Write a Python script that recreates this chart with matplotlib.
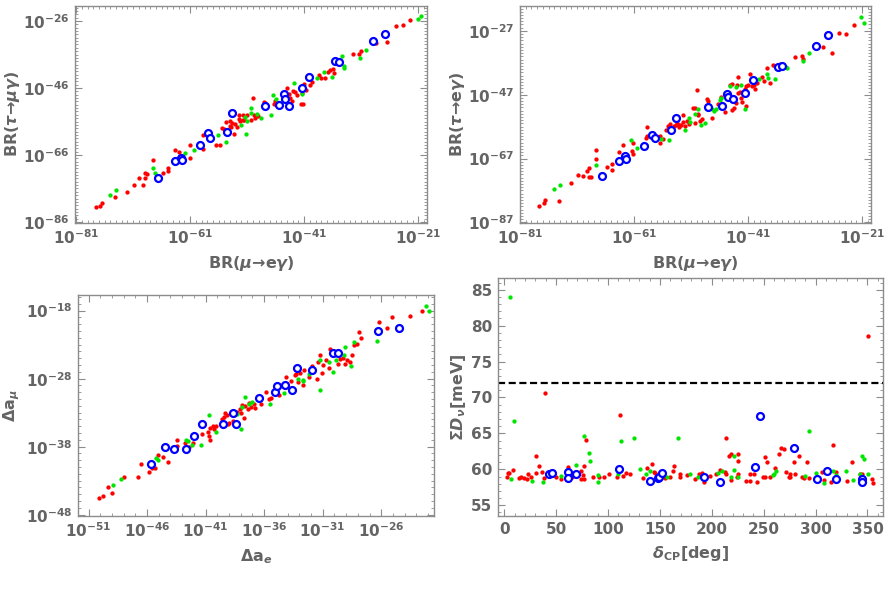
import numpy as np
import matplotlib
matplotlib.use("Agg")
import matplotlib.pyplot as plt
from matplotlib.ticker import NullFormatter

plt.rcParams["font.family"] = "DejaVu Sans"
plt.rcParams["font.weight"] = "bold"
plt.rcParams["mathtext.fontset"] = "dejavusans"
plt.rcParams["mathtext.default"] = "bf"

_TEXT = "#646464"
_FRAME = "#8c8c8c"

# ---- data. Log panels hold log10 values (x, y) ----
# BR(mu->e gamma) vs BR(tau->mu gamma)
tmg_red = [(-77.6, -81.5), (-76.8, -81.1), (-76.5, -80.4), (-74.2, -78.4), (-72.0, -77.0),
           (-70.9, -75.1), (-69.9, -72.9), (-69.2, -75.1), (-69.0, -71.4), (-68.9, -72.8),
           (-68.5, -71.7), (-67.6, -67.5), (-65.7, -71.4), (-64.9, -69.9), (-64.9, -70.8),
           (-63.6, -64.5), (-62.9, -65.0), (-61.1, -67.0), (-61.1, -62.9), (-58.8, -59.9),
           (-58.7, -64.3), (-56.5, -63.1), (-55.8, -62.9), (-55.4, -58.0), (-55.1, -58.1),
           (-54.7, -56.0), (-54.1, -55.9), (-54.0, -57.2), (-53.8, -57.6), (-53.6, -56.4),
           (-53.4, -59.8), (-53.2, -56.8), (-52.8, -57.5), (-52.5, -55.2), (-52.5, -54.2),
           (-52.2, -55.7), (-51.8, -54.1), (-51.7, -55.4), (-51.5, -55.6), (-51.0, -54.2),
           (-50.4, -55.4), (-50.0, -49.1), (-49.8, -54.2), (-49.7, -55.0), (-49.1, -54.5),
           (-48.1, -50.1), (-47.8, -50.6), (-46.3, -50.7), (-46.2, -49.8), (-44.1, -45.9),
           (-43.7, -47.9), (-42.9, -46.9), (-42.6, -47.3), (-42.2, -48.1), (-41.6, -50.9),
           (-41.2, -50.7), (-41.0, -44.9), (-40.7, -46.5), (-39.9, -45.1), (-39.6, -44.1),
           (-38.4, -42.1), (-38.0, -43.1), (-37.4, -43.1), (-36.9, -41.1), (-36.5, -40.5),
           (-36.0, -40.2), (-35.8, -41.6), (-32.5, -35.8), (-31.4, -35.7), (-31.1, -35.0),
           (-28.4, -32.7), (-26.4, -32.3), (-24.9, -27.5), (-23.7, -27.1), (-22.4, -25.7),
           (-43.5, -49.1), (-43.1, -49.8), (-41.3, -47.6)]
tmg_green = [(-75.1, -77.9), (-74.0, -76.3), (-67.6, -69.8), (-67.2, -71.4), (-61.9, -65.4),
             (-60.4, -64.6), (-59.4, -63.3), (-56.2, -60.0), (-54.8, -62.1), (-52.0, -56.9),
             (-51.3, -54.7), (-51.2, -59.8), (-51.0, -55.7), (-50.3, -52.0), (-50.3, -53.5),
             (-49.3, -53.7), (-48.5, -55.0), (-46.9, -54.0), (-46.4, -48.1), (-45.9, -49.3),
             (-44.1, -48.9), (-42.8, -44.5), (-41.3, -47.9), (-38.8, -42.9), (-37.5, -41.3),
             (-36.2, -42.8), (-34.3, -36.3), (-34.1, -39.5), (-34.0, -40.0), (-31.2, -37.0),
             (-30.1, -34.6), (-21.1, -25.3), (-20.5, -24.5)]
tmg_blue = [(-66.7, -73.0), (-63.6, -67.8), (-62.6, -66.8), (-62.4, -67.4), (-59.2, -63.1),
            (-57.8, -59.3), (-57.5, -61.0), (-54.5, -59.2), (-53.7, -53.5), (-47.8, -51.5),
            (-45.4, -51.2), (-44.6, -47.9), (-44.4, -49.4), (-43.6, -51.3), (-41.3, -45.9),
            (-40.1, -42.8), (-35.6, -38.0), (-34.9, -38.3), (-28.9, -32.0), (-26.8, -30.0)]

# BR(mu->e gamma) vs BR(tau->e gamma)
teg_red = [(-77.6, -81.8), (-76.8, -80.9), (-76.6, -80.0), (-74.2, -80.2), (-72.0, -74.7),
           (-70.9, -72.3), (-69.9, -72.4), (-69.2, -71.0), (-68.9, -69.9), (-68.9, -72.8),
           (-68.5, -72.8), (-67.6, -64.2), (-67.6, -67.3), (-65.7, -69.7), (-64.9, -68.6),
           (-64.8, -70.5), (-63.6, -65.1), (-63.0, -62.8), (-61.3, -64.7), (-61.1, -65.7),
           (-61.1, -62.1), (-58.9, -60.5), (-58.8, -57.1), (-58.7, -59.8), (-56.5, -59.8),
           (-56.5, -62.2), (-55.9, -61.0), (-55.4, -58.0), (-55.1, -56.9), (-54.7, -56.1),
           (-54.0, -56.8), (-53.7, -56.6), (-53.4, -55.8), (-53.2, -56.4), (-53.1, -57.2),
           (-52.8, -56.6), (-52.5, -53.5), (-52.4, -55.6), (-52.1, -56.7), (-51.7, -55.1),
           (-51.3, -56.1), (-50.6, -51.2), (-50.3, -51.2), (-50.4, -55.8), (-49.9, -45.6),
           (-49.8, -53.0), (-49.7, -53.5), (-49.5, -55.1), (-49.1, -54.5), (-48.2, -48.3),
           (-48.0, -49.1), (-47.3, -54.3), (-46.3, -49.8), (-45.8, -47.7), (-45.1, -52.4),
           (-44.2, -44.1), (-43.9, -43.5), (-43.8, -51.7), (-43.5, -51.2), (-43.2, -49.6),
           (-42.9, -43.9), (-42.8, -41.5), (-42.8, -46.4), (-42.5, -46.0), (-42.2, -48.0),
           (-42.0, -49.3), (-41.6, -45.1), (-41.4, -50.4), (-41.3, -44.3), (-41.0, -43.9),
           (-40.7, -40.6), (-40.4, -44.3), (-39.9, -43.9), (-39.8, -45.3), (-39.5, -43.2),
           (-38.5, -41.6), (-38.2, -42.6), (-37.6, -38.6), (-37.2, -43.2), (-36.7, -37.6),
           (-36.3, -38.1), (-35.7, -37.6), (-35.4, -37.3), (-32.8, -35.2), (-31.5, -34.9),
           (-31.3, -35.7), (-27.8, -32.0), (-26.3, -33.9), (-25.0, -27.8), (-23.8, -28.0),
           (-22.5, -25.3)]
teg_green = [(-75.1, -76.5), (-74.0, -75.2), (-67.6, -69.0), (-61.5, -61.2), (-60.4, -63.8),
             (-58.9, -62.9), (-56.3, -60.8), (-54.8, -61.3), (-52.0, -58.0), (-51.3, -54.3),
             (-50.3, -52.9), (-49.8, -51.4), (-51.2, -55.6), (-49.3, -56.4), (-48.6, -55.9),
             (-47.3, -51.4), (-46.9, -52.1), (-46.6, -51.6), (-46.0, -48.6), (-45.7, -48.0),
             (-44.1, -44.3), (-43.1, -44.6), (-42.3, -44.1), (-41.5, -51.4), (-39.1, -42.2),
             (-37.6, -40.4), (-37.5, -41.8), (-36.3, -42.0), (-34.4, -38.3), (-34.2, -38.5),
             (-31.3, -36.4), (-30.3, -33.8), (-21.2, -22.6), (-20.6, -24.5)]
teg_blue = [(-66.7, -72.4), (-63.6, -67.8), (-62.6, -66.1), (-62.4, -67.0), (-59.3, -63.2),
            (-57.8, -59.7), (-57.4, -60.7), (-54.5, -58.0), (-53.7, -54.2), (-48.0, -50.9),
            (-45.6, -50.6), (-44.7, -46.7), (-44.6, -47.8), (-43.7, -48.5), (-41.5, -46.5),
            (-40.2, -42.5), (-35.8, -38.3), (-35.0, -38.1), (-29.1, -31.8), (-27.0, -28.2)]

# Delta a_e vs Delta a_mu
amu_red = [(-50.1, -45.5), (-49.8, -45.2), (-49.3, -43.9), (-49.0, -44.8), (-48.0, -42.4),
           (-46.8, -42.4), (-46.5, -40.5), (-45.8, -41.7), (-45.6, -41.2), (-45.3, -41.2),
           (-45.1, -39.2), (-44.6, -39.5), (-44.2, -40.2), (-43.4, -37.0), (-43.4, -37.9),
           (-42.8, -37.4), (-42.4, -38.0), (-42.1, -37.5), (-41.3, -36.2), (-40.8, -35.8),
           (-40.7, -36.4), (-40.6, -37.0), (-40.6, -35.3), (-40.4, -34.9), (-40.3, -35.4),
           (-40.1, -35.0), (-39.6, -34.0), (-39.4, -33.7), (-39.3, -33.0), (-39.2, -33.4),
           (-39.1, -34.7), (-39.0, -34.5), (-38.7, -34.3), (-38.6, -33.4), (-38.3, -32.9),
           (-38.1, -32.4), (-38.0, -33.1), (-37.9, -31.9), (-37.7, -33.8), (-37.6, -32.0),
           (-37.4, -32.4), (-37.3, -31.6), (-37.1, -32.2), (-36.9, -31.7), (-36.8, -32.3),
           (-36.3, -31.8), (-35.8, -30.0), (-35.6, -31.0), (-35.4, -30.8), (-34.7, -30.4),
           (-34.1, -27.8), (-33.7, -28.3), (-33.4, -27.5), (-33.3, -27.3), (-33.1, -28.5),
           (-32.9, -27.1), (-32.7, -29.0), (-32.6, -26.8), (-32.2, -27.8), (-31.9, -26.1),
           (-31.5, -28.0), (-31.4, -25.5), (-31.2, -24.5), (-31.1, -27.2), (-31.0, -26.0),
           (-30.7, -25.3), (-30.5, -26.5), (-30.4, -23.7), (-30.0, -24.3), (-29.7, -25.9),
           (-29.5, -25.1), (-29.3, -25.0), (-29.1, -25.8), (-28.9, -25.3), (-28.7, -25.5),
           (-28.5, -24.5), (-28.3, -23.1), (-28.1, -22.9), (-27.9, -21.1), (-27.7, -22.0),
           (-26.2, -19.7), (-25.5, -20.5), (-25.1, -18.9), (-23.5, -18.8), (-22.5, -18.1)]
amu_green = [(-48.9, -43.7), (-48.2, -42.7), (-45.2, -39.7), (-45.1, -40.0), (-42.7, -37.0),
             (-42.5, -37.1), (-42.2, -37.7), (-41.4, -37.7), (-40.7, -33.4), (-40.1, -35.9),
             (-38.3, -33.2), (-38.0, -35.4), (-37.9, -32.2), (-37.6, -30.7), (-37.3, -31.7),
             (-37.0, -31.4), (-35.5, -31.8), (-34.9, -30.0), (-34.3, -30.1), (-33.1, -28.0),
             (-32.7, -28.3), (-32.7, -28.2), (-32.2, -27.3), (-31.2, -29.7), (-31.2, -25.3),
             (-30.5, -25.5), (-30.1, -27.0), (-29.9, -25.2), (-29.2, -24.5), (-29.1, -23.3),
             (-28.6, -26.2), (-28.3, -22.6), (-26.4, -22.5), (-22.2, -17.3), (-21.9, -18.0)]
amu_blue = [(-45.7, -40.5), (-44.5, -38.1), (-43.7, -38.3), (-42.7, -38.4), (-42.0, -36.5),
            (-41.3, -34.7), (-39.5, -34.6), (-38.7, -33.1), (-38.4, -34.7), (-36.4, -30.8),
            (-35.1, -30.0), (-34.9, -29.1), (-34.2, -29.0), (-33.6, -29.6), (-33.2, -26.5),
            (-31.9, -26.7), (-30.1, -24.3), (-29.7, -24.3), (-26.3, -21.0), (-24.5, -20.5)]

# delta_CP [deg] vs sum of neutrino masses [meV]
mass_red = [(39.4, 70.6), (30.1, 61.9), (33.0, 60.4), (8.3, 59.9), (3.5, 59.5), (4.8, 59.5),
            (2.2, 58.9), (14.1, 58.8), (16.3, 58.9), (18.9, 58.8), (22.8, 59.3), (25.3, 59.0),
            (22.1, 58.7), (30.4, 59.5), (36.5, 59.6), (38.1, 58.8), (42.9, 59.1), (49.4, 58.9),
            (54.2, 58.7), (61.2, 60.3), (60.6, 59.5), (65.4, 59.0), (73.4, 59.7), (74.0, 58.6),
            (76.6, 58.6), (76.0, 59.2), (77.2, 60.4), (78.5, 64.1), (85.6, 58.9), (91.0, 58.9),
            (95.8, 58.9), (100.6, 59.3), (108.7, 59.0), (111.5, 67.5), (114.1, 59.1),
            (117.6, 59.5), (121.5, 59.4), (133.7, 58.8), (137.5, 60.2), (142.6, 60.8),
            (143.9, 59.6), (145.5, 59.5), (147.1, 59.1), (155.1, 58.8), (159.9, 59.0),
            (162.2, 59.7), (163.5, 60.5), (168.9, 59.4), (169.2, 58.9), (176.0, 59.2),
            (187.2, 59.3), (183.9, 58.7), (190.4, 59.5), (190.4, 59.0), (192.0, 58.3),
            (198.4, 59.1), (203.9, 59.4), (207.5, 59.9), (212.3, 59.6), (213.6, 59.3),
            (213.6, 64.4), (216.8, 61.9), (218.7, 62.2), (218.7, 58.5), (224.2, 59.0),
            (225.2, 62.2), (225.2, 61.2), (225.2, 59.4), (232.9, 58.4), (237.1, 58.4),
            (236.4, 59.3), (240.6, 59.3), (243.8, 58.2), (249.6, 58.9), (251.6, 61.7),
            (253.2, 61.0), (250.9, 58.9), (256.4, 59.0), (260.6, 60.2), (264.5, 62.1),
            (267.0, 62.9), (269.6, 62.8), (271.5, 59.6), (274.1, 59.0), (275.4, 59.0),
            (275.7, 59.4), (279.3, 61.0), (280.6, 59.4), (283.8, 61.9), (286.4, 58.9),
            (288.9, 58.8), (291.5, 61.0), (293.4, 58.8), (306.3, 59.6), (307.6, 58.5),
            (316.3, 63.4), (314.7, 58.2), (319.2, 59.6), (329.8, 58.4), (334.7, 61.0),
            (342.4, 59.4), (344.7, 59.3), (350.8, 78.6), (354.0, 58.7), (355.0, 58.1)]
mass_green = [(5.1, 84.0), (9.6, 66.7), (6.7, 58.6), (26.9, 58.4), (36.9, 58.3), (54.5, 59.1),
              (69.2, 60.6), (76.9, 64.7), (81.7, 62.3), (82.4, 61.2), (90.4, 59.2), (90.1, 58.3),
              (112.5, 64.0), (124.7, 64.4), (131.1, 60.0), (136.5, 59.3), (140.1, 59.7),
              (156.7, 58.9), (167.3, 64.3), (178.5, 59.3), (109.3, 59.3), (186.5, 58.9),
              (205.8, 59.5), (209.7, 59.8), (218.7, 59.0), (221.0, 61.8), (221.0, 59.9),
              (225.2, 59.0), (258.7, 59.2), (260.0, 59.4), (261.9, 59.7), (290.2, 59.1),
              (294.1, 65.3), (299.9, 59.5), (307.6, 58.1), (316.6, 59.8), (319.2, 59.2),
              (329.5, 59.7), (336.0, 58.5), (344.3, 61.9), (346.3, 61.4), (350.1, 59.4),
              (342.4, 59.4)]
mass_blue = [(42.9, 59.3), (46.2, 59.5), (61.2, 59.6), (61.2, 58.8), (68.6, 59.3), (110.6, 60.1),
             (140.7, 58.4), (148.4, 58.8), (149.4, 59.0), (151.6, 59.5), (192.0, 59.0),
             (208.1, 58.2), (241.9, 60.3), (246.4, 67.4), (279.3, 62.9), (301.5, 58.6),
             (310.5, 59.7), (319.5, 58.6), (344.3, 58.7), (344.7, 58.2)]
mass_bound = 72.0

# tick exponents
tmg_xticks = [-81, -61, -41, -21]
tmg_yticks = [-26, -46, -66, -86]
teg_yticks = [-27, -47, -67, -87]
amu_xticks = [-51, -46, -41, -36, -31, -26]
amu_yticks = [-18, -28, -38, -48]
mass_xticks = [0, 50, 100, 150, 200, 250, 300, 350]
mass_yticks = [55, 60, 65, 70, 75, 80, 85]


def style_axes(ax, labelsize=10.5):
    """Mathematica-like frame: gray box, inward ticks on all sides."""
    for s in ax.spines.values():
        s.set_color(_FRAME)
        s.set_linewidth(1.0)
    ax.tick_params(which="both", direction="in", top=True, right=True,
                   color=_FRAME, labelcolor=_TEXT, labelsize=labelsize)
    ax.tick_params(which="major", length=5, width=0.8, pad=4)
    ax.tick_params(which="minor", length=2.5, width=0.6)


def plot_sets(ax, red, green, blue, log=True):
    """Red and green dots, blue open circles on top."""
    for pts, kw in ((red, dict(color="#ff0000")), (green, dict(color="#00e600"))):
        a = np.array(pts).T
        x, y = (10.0 ** a[0], 10.0 ** a[1]) if log else (a[0], a[1])
        ax.plot(x, y, ls="", marker="o", ms=3.1, mew=0, zorder=3, **kw)
    a = np.array(blue).T
    x, y = (10.0 ** a[0], 10.0 ** a[1]) if log else (a[0], a[1])
    ax.plot(x, y, ls="", marker="o", ms=5.0, mfc="white", mec="#0000ff",
            mew=1.6, zorder=4)


def log_axis(axis, lim, majors):
    """Log axis with labelled majors and a minor tick every decade."""
    lo, hi = lim
    axis.set_ticks([10.0 ** e for e in majors],
                   labels=[r"$10^{%d}$" % e for e in majors])
    minors = [10.0 ** e for e in range(int(np.ceil(lo)), int(np.floor(hi)) + 1)
              if e not in majors]
    axis.set_ticks(minors, minor=True)
    axis.set_minor_formatter(NullFormatter())


def set_labels(ax, xlabel, ylabel, ylabel_x):
    """ylabel_x is the right edge of the rotated label, in axes units."""
    ax.set_xlabel(xlabel, color=_TEXT, fontsize=11.5, fontweight="bold", labelpad=5)
    ax.set_ylabel(ylabel, color=_TEXT, fontsize=11.5, fontweight="bold")
    ax.yaxis.set_label_coords(ylabel_x, 0.5)


fig = plt.figure(figsize=(8.9, 6.16), dpi=100)

mu_eg_label = r"BR($\mathbfit{\mu}$→e$\mathbfit{\gamma}$)"

# top left
ax1 = fig.add_axes([0.0843, 0.638, 0.3952, 0.3523])
ax1.set_xscale("log")
ax1.set_yscale("log")
plot_sets(ax1, tmg_red, tmg_green, tmg_blue)
ax1.set_xlim(10.0 ** -81.2, 10.0 ** -19.5)
ax1.set_ylim(10.0 ** -86.3, 10.0 ** -21.5)
log_axis(ax1.xaxis, (-81.2, -19.5), tmg_xticks)
log_axis(ax1.yaxis, (-86.3, -21.5), tmg_yticks)
style_axes(ax1, 11)
set_labels(ax1, mu_eg_label, r"BR($\mathbfit{\tau}$→$\mathbfit{\mu\gamma}$)", -0.151)

# top right
ax2 = fig.add_axes([0.5843, 0.638, 0.394, 0.3523])
ax2.set_xscale("log")
ax2.set_yscale("log")
plot_sets(ax2, teg_red, teg_green, teg_blue)
ax2.set_xlim(10.0 ** -81.0, 10.0 ** -19.5)
ax2.set_ylim(10.0 ** -87.2, 10.0 ** -19.2)
log_axis(ax2.xaxis, (-81.0, -19.5), tmg_xticks)
log_axis(ax2.yaxis, (-87.2, -19.2), teg_yticks)
style_axes(ax2, 11)
set_labels(ax2, mu_eg_label, r"BR($\mathbfit{\tau}$→e$\mathbfit{\gamma}$)", -0.151)

# bottom left
ax3 = fig.add_axes([0.0876, 0.1623, 0.4006, 0.3588])
ax3.set_xscale("log")
ax3.set_yscale("log")
plot_sets(ax3, amu_red, amu_green, amu_blue)
ax3.set_xlim(10.0 ** -51.9, 10.0 ** -21.45)
ax3.set_ylim(10.0 ** -48.2, 10.0 ** -15.7)
log_axis(ax3.xaxis, (-51.9, -21.45), amu_xticks)
log_axis(ax3.yaxis, (-48.2, -15.7), amu_yticks)
style_axes(ax3, 11)
set_labels(ax3, r"$\Delta a_{\mathbfit{e}}$", r"$\Delta a_{\mathbfit{\mu}}$", -0.157)

# bottom right
ax4 = fig.add_axes([0.5596, 0.1623, 0.4326, 0.3872])
plot_sets(ax4, mass_red, mass_green, mass_blue, log=False)
ax4.axhline(mass_bound, color="black", lw=1.6, dashes=(3.2, 1.6), zorder=2)
ax4.set_xlim(-6.1, 365.0)
ax4.set_ylim(53.5, 86.7)
ax4.set_xticks(mass_xticks)
ax4.set_yticks(mass_yticks)
ax4.set_xticks(np.arange(0, 361, 10), minor=True)
ax4.set_yticks(np.arange(54, 87, 1), minor=True)
style_axes(ax4, 11)
set_labels(ax4, r"$\mathbfit{\delta}_{CP}$[deg]",
           r"$\Sigma \mathbfit{D}_{\mathbfit{\nu}}$[meV]", -0.078)

fig.savefig("out.png", dpi=100)
